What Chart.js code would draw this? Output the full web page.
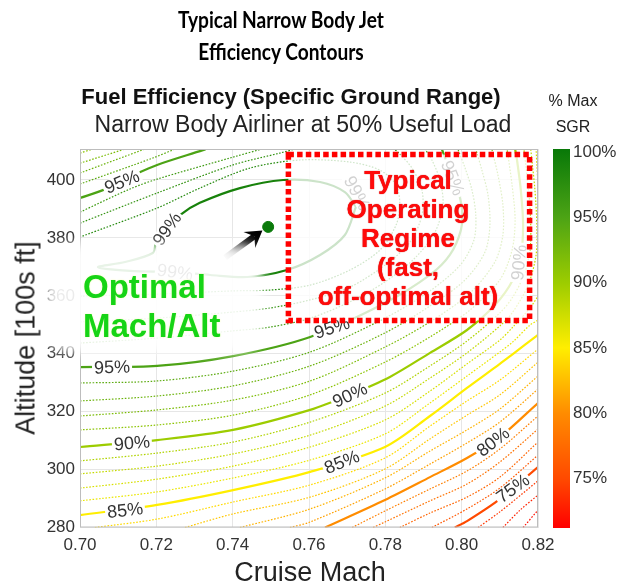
<!DOCTYPE html>
<html>
<head>
<meta charset="utf-8">
<script src="https://cdn.jsdelivr.net/npm/chart.js@4.4.1/dist/chart.umd.min.js"></script>
<style>
  html, body { margin: 0; padding: 0; background: #fff; }
  #wrap { position: relative; width: 621px; height: 585px; overflow: hidden;
          font-family: "Liberation Sans", Arial, sans-serif; color: #222; }
  #c { position: absolute; left: 0; top: 0; }
  .t { position: absolute; white-space: nowrap; }
  #title { left: 0; width: 562px; top: 4px; text-align: center; font-family: Lato, "Open Sans", sans-serif;
           font-weight: 700; font-size: 22px; line-height: 32px; color: #000; transform: scaleX(0.87); }
  #sub1 { left: 0; width: 582px; top: 84px; text-align: center; font-weight: 700; font-size: 22px; color: #111; }
  #sub2 { left: 0; width: 606px; top: 111px; text-align: center; font-size: 23px; color: #222; }
  #cbt { left: 540px; width: 66px; top: 88px; text-align: center; font-size: 16px; line-height: 26px; color: #222; }
  #ytitle { left: 26px; top: 338px; font-size: 27px; transform: translate(-50%, -50%) rotate(-90deg); color: #222; }
  #xtitle { left: 310px; top: 572px; font-size: 27px; transform: translate(-50%, -50%); color: #222; }
  #glow { left: 46px; top: 244px; width: 216px; height: 108px; background: rgba(255,255,255,0.9);
          filter: blur(6px); border-radius: 22px; }
  #optimal { left: 83px; top: 267px; font-weight: 700; font-size: 33px; line-height: 39px; color: #16d416;
             text-shadow: 0 0 2px #f4ffb0, 0 0 6px #fff, 0 0 10px #fff; }
  #regime { left: 290px; width: 236px; top: 166px; text-align: center; font-weight: 700; font-size: 26px;
            line-height: 29px; color: #ff0a0a; text-shadow: 0 0 1px #b00; }
  #cbar { left: 553px; top: 149px; width: 17px; height: 379px; }
  .cbl { position: absolute; left: 573px; font-size: 17px; color: #333; transform: translateY(-50%); }
</style>
</head>
<body>
<div id="wrap">
  <canvas id="c" width="621" height="585"></canvas>
  <div class="t" id="title">Typical Narrow Body Jet<br>Efficiency Contours</div>
  <div class="t" id="sub1">Fuel Efficiency (Specific Ground Range)</div>
  <div class="t" id="sub2">Narrow Body Airliner at 50% Useful Load</div>
  <div class="t" id="cbt">% Max<br>SGR</div>
  <div class="t" id="ytitle">Altitude [100s ft]</div>
  <div class="t" id="xtitle">Cruise Mach</div>
  <div class="t" id="glow"></div>
  <div class="t" id="optimal">Optimal<br>Mach/Alt</div>
  <div class="t" id="regime">Typical<br>Operating<br>Regime<br>(fast,<br>off-optimal alt)</div>
  <div class="t" id="cbar"></div>
</div>
<script>
// ---- axes ----
const machTicks = [0.70, 0.72, 0.74, 0.76, 0.78, 0.80, 0.82];
const altTicks = [280, 300, 320, 340, 360, 380, 400];
const machRange = [0.70, 0.82];
const altRange = [280, 410.7];

// ---- colour scale (% max SGR) ----
const cmapVals = [71.2, 75, 80, 85, 90, 95, 100.2];
const cmapCols = ["#ff0000", "#ff4a00", "#ff8c00", "#ffee00", "#9ccc00", "#4ca315", "#087808"];
const cbarTicks = [75, 80, 85, 90, 95, 100];

// ---- contour lines, [mach, alt] ----
const sgr72 = [[[0.8161,280.0],[0.8200,286.0]]];
const sgr73 = [[[0.8108,280.0],[0.8153,286.0],[0.8200,291.2]]];
const sgr74 = [[[0.8043,280.0],[0.8100,285.4],[0.8200,296.1]]];
const sgr75 = [[[0.7982,280.0],[0.8014,282.2],[0.8100,289.8],[0.8200,300.9]]];
const sgr76 = [[[0.7922,280.0],[0.8014,286.4],[0.8100,293.6],[0.8200,305.0]]];
const sgr77 = [[[0.7838,280.0],[0.7917,285.0],[0.8014,290.5],[0.8100,297.4],[0.8200,309.5]]];
const sgr78 = [[[0.7768,280.0],[0.7799,281.9],[0.7917,289.2],[0.8014,295.0],[0.8100,302.6],[0.8200,314.0]]];
const sgr79 = [[[0.7713,280.0],[0.7799,285.7],[0.7917,293.3],[0.8014,299.5],[0.8100,307.1],[0.8200,318.5]]];
const sgr80 = [[[0.7642,280.0],[0.7799,289.5],[0.7917,297.4],[0.8014,304.0],[0.8100,311.2],[0.8200,323.0]]];
const sgr81 = [[[0.7550,280.0],[0.7603,281.9],[0.7799,293.3],[0.7917,301.9],[0.8014,309.2],[0.8100,316.4],[0.8200,327.8]]];
const sgr82 = [[[0.7419,280.0],[0.7603,286.4],[0.7799,297.1],[0.7917,306.4],[0.8014,313.7],[0.8100,320.9],[0.8200,332.3]]];
const sgr83 = [[[0.7275,280.0],[0.7401,284.7],[0.7603,290.5],[0.7799,300.2],[0.7917,310.6],[0.8014,318.8],[0.8100,325.8],[0.8200,337.1]]];
const sgr84 = [[[0.7039,280.0],[0.7202,282.9],[0.7401,288.8],[0.7603,294.7],[0.7799,304.0],[0.7917,315.0],[0.8014,323.7],[0.8100,330.9],[0.8200,341.6]]];
const sgr85 = [[[0.7000,284.3],[0.7202,287.8],[0.7401,292.9],[0.7603,299.2],[0.7799,307.8],[0.7917,318.5],[0.8014,328.2],[0.8100,336.5],[0.8134,339.9],[0.8200,346.5]]];
const sgr86 = [[[0.7000,289.2],[0.7202,292.3],[0.7401,297.1],[0.7603,303.3],[0.7799,312.3],[0.7917,323.0],[0.8014,332.3],[0.8100,340.6],[0.8134,344.1],[0.8179,349.9],[0.8200,351.6]]];
const sgr87 = [[[0.7000,293.6],[0.7202,296.7],[0.7401,301.2],[0.7603,307.8],[0.7799,317.1],[0.7917,327.1],[0.8014,336.5],[0.8100,344.7],[0.8134,349.2],[0.8179,355.8],[0.8200,359.9]],
               [[0.8200,398.3],[0.8197,405.2],[0.8195,410.7]]];
const sgr88 = [[[0.7000,298.5],[0.7202,301.2],[0.7401,305.4],[0.7603,311.9],[0.7799,321.9],[0.7917,331.6],[0.8014,340.3],[0.8100,349.6],[0.8134,354.4],[0.8174,363.7],[0.8195,374.1],[0.8197,384.4],[0.8192,396.5],[0.8184,406.9],[0.8181,410.7]]];
const sgr89 = [[[0.7000,303.0],[0.7202,305.7],[0.7401,309.5],[0.7603,316.4],[0.7799,326.4],[0.7917,335.8],[0.8014,344.4],[0.8100,354.1],[0.8134,359.6],[0.8163,367.2],[0.8179,375.8],[0.8181,384.4],[0.8176,394.8],[0.8168,405.2],[0.8163,410.7]]];
const sgr90 = [[[0.7000,307.8],[0.7202,310.2],[0.7401,313.7],[0.7603,320.6],[0.7707,325.8],[0.7812,332.0],[0.7917,340.3],[0.8014,348.2],[0.8087,356.8],[0.8134,365.5],[0.8155,374.1],[0.8161,384.4],[0.8155,396.5],[0.8145,406.9],[0.8140,410.7]]];
const sgr91 = [[[0.7000,313.7],[0.7202,315.4],[0.7401,318.8],[0.7603,325.8],[0.7799,337.1],[0.7917,345.8],[0.8022,355.1],[0.8100,365.5],[0.8132,375.8],[0.8140,386.2],[0.8132,398.3],[0.8119,410.7]],
               [[0.7000,409.3],[0.7034,410.7]]];
const sgr92 = [[[0.7000,318.5],[0.7202,320.6],[0.7401,324.0],[0.7603,330.6],[0.7799,342.3],[0.7917,351.0],[0.8022,361.0],[0.8087,371.7],[0.8108,381.0],[0.8108,391.4],[0.8095,401.7],[0.8079,410.7]],
               [[0.7000,405.8],[0.7118,410.7]]];
const sgr93 = [[[0.7000,323.7],[0.7202,325.4],[0.7401,328.9],[0.7603,335.8],[0.7799,347.2],[0.7917,356.5],[0.8009,365.5],[0.8061,375.1],[0.8074,384.4],[0.8069,394.8],[0.8053,403.4],[0.8037,410.7]],
               [[0.7000,402.4],[0.7170,410.7]]];
const sgr94 = [[[0.7000,329.9],[0.7202,330.6],[0.7401,334.0],[0.7603,340.6],[0.7799,352.3],[0.7917,361.7],[0.7996,370.6],[0.8032,379.2],[0.8037,387.9],[0.8027,396.5],[0.8009,404.1],[0.7990,410.7]],
               [[0.7000,398.6],[0.7191,407.6],[0.7249,410.7]]];
const sgr95 = [[[0.7000,335.4],[0.7202,335.8],[0.7401,339.2],[0.7603,345.8],[0.7799,357.5],[0.7917,367.2],[0.7969,374.1],[0.7998,382.7],[0.8001,389.6],[0.7990,396.5],[0.7969,403.4],[0.7948,410.7]],
               [[0.7000,393.8],[0.7060,396.5],[0.7152,402.4],[0.7202,405.2],[0.7322,410.3],[0.7330,410.7]]];
const sgr96 = [[[0.7000,343.7],[0.7202,345.4],[0.7401,347.9],[0.7498,349.2],[0.7603,352.3],[0.7707,357.9],[0.7799,364.8],[0.7878,373.1],[0.7930,382.0],[0.7951,391.4],[0.7943,400.0],[0.7922,406.9],[0.7904,410.7]],
               [[0.7000,388.9],[0.7131,396.9],[0.7202,400.3],[0.7401,407.9],[0.7477,410.7]]];
const sgr97 = [[[0.7000,351.0],[0.7202,352.3],[0.7401,354.4],[0.7498,355.8],[0.7603,358.6],[0.7707,363.0],[0.7799,370.6],[0.7865,378.6],[0.7896,387.9],[0.7896,396.5],[0.7870,404.1],[0.7833,409.6],[0.7823,410.7]],
               [[0.7000,385.1],[0.7202,395.5],[0.7401,405.2],[0.7524,409.3],[0.7563,410.7]]];
const sgr98 = [[[0.7000,359.9],[0.7202,360.6],[0.7401,361.7],[0.7498,362.0],[0.7603,363.7],[0.7707,368.9],[0.7786,375.8],[0.7828,384.4],[0.7838,391.4],[0.7828,398.3],[0.7786,403.4],[0.7707,406.2],[0.7576,406.9],[0.7445,404.1],[0.7314,397.2],[0.7202,390.3],[0.7000,380.3]]];
const sgr99 = [[[0.7723,390.7],[0.7694,395.8],[0.7629,399.3],[0.7532,400.0],[0.7419,397.2],[0.7314,392.1],[0.7262,387.9],[0.7217,382.0],[0.7199,378.6],[0.7191,374.8],[0.7118,371.7],[0.7047,369.9],[0.7131,368.6],[0.7249,368.2],[0.7341,367.2],[0.7438,366.5],[0.7542,368.9],[0.7629,374.1],[0.7694,381.0],[0.7723,390.7]]];

const contourLevels = [72,73,74,75,76,77,78,79,80,81,82,83,84,85,86,87,88,89,90,91,92,93,94,95,96,97,98,99];
const contourPaths = [sgr72,sgr73,sgr74,sgr75,sgr76,sgr77,sgr78,sgr79,sgr80,sgr81,sgr82,sgr83,sgr84,sgr85,
                      sgr86,sgr87,sgr88,sgr89,sgr90,sgr91,sgr92,sgr93,sgr94,sgr95,sgr96,sgr97,sgr98,sgr99];
const solidLevels = [75, 80, 85, 90, 95, 99];

// ---- inline contour labels ----
const labelText = ["95%","99%","99%","95%","90%","85%","95%","90%","85%","80%","75%","90%","99%","95%"];
const labelMach = [0.7110,0.7228,0.7249,0.7084,0.7136,0.7118,0.7660,0.7707,0.7686,0.8082,0.8134,0.8150,0.7726,0.7977];
const labelAlt  = [399.4,383.1,368.2,335.4,309.2,286.0,349.0,325.8,302.6,309.6,293.5,371.5,395.5,400.7];
const labelRot  = [-22,-55,8,-2,-5,-6,-18,-25,-22,-38,-36,-84,62,68];

// ---- optimum + annotations ----
const optMach = [0.7493];
const optAlt = [383.8];
const arrowMach = [0.7380, 0.7478];
const arrowAlt = [373.2, 382.6];
const boxMach = [0.7546, 0.8178];
const boxAlt = [351.5, 408.8];

// --- helpers ---
function hexRgb(h) { return [1, 3, 5].map((i) => parseInt(h.substr(i, 2), 16)); }
function cmap(v) {
  let i = 0;
  while (i < cmapVals.length - 2 && v > cmapVals[i + 1]) i++;
  const f = Math.max(0, Math.min(1, (v - cmapVals[i]) / (cmapVals[i + 1] - cmapVals[i])));
  const a = hexRgb(cmapCols[i]), b = hexRgb(cmapCols[i + 1]);
  return "rgb(" + a.map((c, k) => Math.round(c + (b[k] - c) * f)).join(",") + ")";
}

// --- colour bar (html) ---
(function buildColorbar() {
  const lo = cmapVals[0], hi = cmapVals[cmapVals.length - 1];
  const stops = cmapVals.map((v, i) => cmapCols[i] + " " + ((v - lo) / (hi - lo) * 100).toFixed(2) + "%");
  const bar = document.getElementById("cbar");
  bar.style.background = "linear-gradient(to top, " + stops.join(", ") + ")";
  const wrap = document.getElementById("wrap");
  cbarTicks.forEach((v) => {
    const d = document.createElement("div");
    d.className = "cbl";
    d.textContent = v + "%";
    d.style.top = (149 + (hi - v) / (hi - lo) * 379) + "px";
    wrap.appendChild(d);
  });
})();

// --- datasets ---
const datasets = [];
contourLevels.forEach((lv, i) => {
  const solid = solidLevels.includes(lv);
  contourPaths[i].forEach((seg) => {
    datasets.push({
      data: seg.map((p) => ({ x: p[0], y: p[1] })),
      showLine: true,
      borderColor: cmap(lv),
      borderWidth: solid ? 2.2 : 1.2,
      borderDash: solid ? [] : [1.6, 1.6],
      pointRadius: 0,
      tension: 0.3,
      fill: false,
    });
  });
});
datasets.push({
  data: optMach.map((m, i) => ({ x: m, y: optAlt[i] })),
  pointRadius: 5.5,
  pointBackgroundColor: "#0b7a0b",
  pointBorderColor: "#0b7a0b",
  showLine: false,
});

// --- drawing plugin: labels, frame, box, arrow ---
const decor = {
  id: "decor",
  afterDatasetsDraw(chart) {
    const { ctx, chartArea: a } = chart;
    const xs = chart.scales.x, ys = chart.scales.y;
    ctx.save();

    // contour labels
    ctx.font = '18px "Liberation Sans", Arial, sans-serif';
    ctx.textAlign = "center";
    ctx.textBaseline = "middle";
    labelText.forEach((t, i) => {
      const px = xs.getPixelForValue(labelMach[i]);
      const py = ys.getPixelForValue(labelAlt[i]);
      ctx.save();
      ctx.translate(px, py);
      ctx.rotate(labelRot[i] * Math.PI / 180);
      const w = ctx.measureText(t).width;
      ctx.fillStyle = "#fff";
      ctx.fillRect(-w / 2 - 2, -7, w + 4, 14);
      ctx.fillStyle = "#333";
      ctx.fillText(t, 0, 1);
      ctx.restore();
    });

    // frame
    ctx.strokeStyle = "#bdbdbd";
    ctx.lineWidth = 1;
    ctx.strokeRect(a.left + 0.5, a.top + 0.5, a.right - a.left - 1, a.bottom - a.top - 1);

    // operating regime box
    const bx0 = xs.getPixelForValue(boxMach[0]), bx1 = xs.getPixelForValue(boxMach[1]);
    const by0 = ys.getPixelForValue(boxAlt[1]), by1 = ys.getPixelForValue(boxAlt[0]);
    ctx.fillStyle = "rgba(255,255,255,0.78)";
    ctx.fillRect(bx0, by0, bx1 - bx0, by1 - by0);
    ctx.setLineDash([5.5, 3.2]);
    ctx.lineWidth = 5.5;
    ctx.strokeStyle = "#ff0000";
    ctx.strokeRect(bx0, by0, bx1 - bx0, by1 - by0);
    ctx.setLineDash([]);

    // arrow to optimum
    const tx = xs.getPixelForValue(arrowMach[0]), ty = ys.getPixelForValue(arrowAlt[0]);
    const hx = xs.getPixelForValue(arrowMach[1]), hy = ys.getPixelForValue(arrowAlt[1]);
    const ang = Math.atan2(hy - ty, hx - tx);
    const g = ctx.createLinearGradient(tx, ty, hx, hy);
    g.addColorStop(0, "#d0d0d0");
    g.addColorStop(0.3, "#111");
    g.addColorStop(1, "#000");
    ctx.strokeStyle = g;
    ctx.lineWidth = 6;
    ctx.beginPath();
    ctx.moveTo(tx, ty);
    ctx.lineTo(hx - 10 * Math.cos(ang), hy - 10 * Math.sin(ang));
    ctx.stroke();
    ctx.fillStyle = "#000";
    ctx.beginPath();
    ctx.moveTo(hx, hy);
    ctx.lineTo(hx - 19 * Math.cos(ang - 0.55), hy - 19 * Math.sin(ang - 0.55));
    ctx.lineTo(hx - 10 * Math.cos(ang), hy - 10 * Math.sin(ang));
    ctx.lineTo(hx - 19 * Math.cos(ang + 0.55), hy - 19 * Math.sin(ang + 0.55));
    ctx.closePath();
    ctx.fill();

    ctx.restore();
  },
};

Chart.defaults.font.family = '"Liberation Sans", Arial, sans-serif';

new Chart(document.getElementById("c"), {
  type: "scatter",
  data: { datasets: datasets },
  options: {
    responsive: false,
    animation: false,
    layout: { padding: { top: 149, right: 83, left: 0, bottom: 0 } },
    plugins: { legend: { display: false }, tooltip: { enabled: false } },
    scales: {
      x: {
        type: "linear",
        min: machRange[0],
        max: machRange[1],
        afterBuildTicks: (s) => { s.ticks = machTicks.map((v) => ({ value: v })); },
        afterFit: (s) => { s.height = 57.5; },
        ticks: { callback: (v) => Number(v).toFixed(2), font: { size: 17 }, color: "#333", padding: 8, maxRotation: 0 },
        grid: { color: "#e6e6e6", drawTicks: false },
        border: { display: false },
      },
      y: {
        type: "linear",
        min: altRange[0],
        max: altRange[1],
        afterBuildTicks: (s) => { s.ticks = altTicks.map((v) => ({ value: v })); },
        afterFit: (s) => { s.width = 80; },
        ticks: { callback: (v) => String(v), font: { size: 17 }, color: "#333", padding: 5 },
        grid: { color: "#e6e6e6", drawTicks: false },
        border: { display: false },
      },
    },
  },
  plugins: [decor],
});
</script>
</body>
</html>
